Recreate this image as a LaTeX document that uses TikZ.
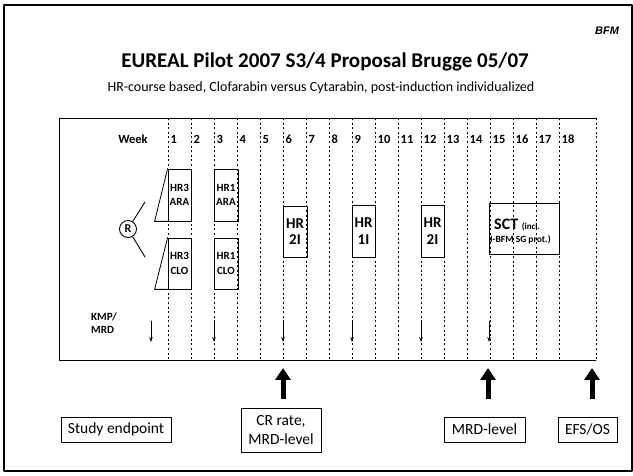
\documentclass[tikz,border=0pt]{standalone}
\usepackage{fontspec}
\setmainfont{Carlito}
\newfontfamily\arialfont{Liberation Sans}
\usetikzlibrary{arrows.meta}

\tikzset{
  hrbox/.style={draw,line width=0.8pt,inner sep=0pt,align=center,font=\bfseries\fontsize{11}{14.5}\selectfont},
  hrbig/.style={draw,line width=0.8pt,inner sep=0pt,align=center,font=\bfseries\fontsize{15}{16.5}\selectfont},
  goalbox/.style={draw,line width=0.7pt,inner sep=0pt,align=center,font=\fontsize{15.5}{19.5}\selectfont},
  weekline/.style={line width=1pt,dash pattern=on 2pt off 2.6pt,line cap=butt},
  kmparrow/.style={line width=0.9pt,-{Stealth[length=5pt,width=3.5pt]}},
  bigarrow/.style={line width=5pt,line cap=butt,-{Triangle[length=12pt,width=15pt]}}
}

\begin{document}
\begin{tikzpicture}[x=1pt,y=-1pt,line cap=round,line join=round,every node/.style={inner sep=0pt}]
  \useasboundingbox (0,0) rectangle (633,476);
  \def\wk{23}
  % frame and headings
  \draw[line width=1.5pt] (4,5) rectangle (632,471);
  \node[font=\arialfont\bfseries\itshape\fontsize{11}{11}\selectfont] (bfm) at (607,31) {BFM};
  \node[font=\bfseries\fontsize{21}{21}\selectfont] (title) at (325,62) {EUREAL Pilot 2007 S3/4 Proposal Brugge 05/07};
  \node[font=\fontsize{14}{14}\selectfont] (subtitle) at (321,88) {HR-course based, Clofarabin versus Cytarabin, post-induction individualized};

  % time line
  \draw[line width=0.7pt] (596,118) -- (59,118) -- (59,360) -- (596,360);
  \foreach \k in {0,...,17} \draw[weekline] ({168+\wk*\k},118) -- ({168+\wk*\k},360);
  \draw[weekline] (596,118) -- (596,360);
  \node[font=\bfseries\fontsize{12.5}{12.5}\selectfont] (week) at (133,139) {Week};
  \foreach \n in {1,...,18}
    \node[anchor=west,font=\bfseries\fontsize{12.5}{12.5}\selectfont] (wn\n) at ({168+\wk*(\n-1)+2.5},139) {\n};

  % randomisation
  \node[draw,circle,line width=0.9pt,minimum size=17pt,font=\bfseries\fontsize{12}{12}\selectfont] (rand) at (128,229) {R};
  \coordinate (armA) at (145,202); \coordinate (armB) at (145,257);
  \draw[line width=0.9pt] (rand) -- (armA);
  \draw[line width=0.9pt] (rand) -- (armB);

  \node[hrbox,minimum width=23pt,minimum height=52pt] (ara3) at (179.5,195) {HR3\\ARA};
  \node[hrbox,minimum width=24pt,minimum height=52pt] (ara1) at (226,195) {HR1\\ARA};
  \node[hrbox,minimum width=23pt,minimum height=51pt] (clo3) at (179.5,263.5) {HR3\\CLO};
  \node[hrbox,minimum width=24pt,minimum height=51pt] (clo1) at (226,263.5) {HR1\\CLO};
  \draw[line width=0.8pt] (ara3.north west) -- ([xshift=-13pt]ara3.south west) -- (ara3.south west);
  \draw[line width=0.8pt] (clo3.north west) -- ([xshift=-13pt]clo3.south west) -- (clo3.south west);

  \node[hrbig,minimum width=24pt,minimum height=51pt] (hrA) at (295,231.5) {HR\\2I};
  \node[hrbig,minimum width=23pt,minimum height=52pt] (hrB) at (363.5,231) {HR\\1I};
  \node[hrbig,minimum width=23pt,minimum height=52pt] (hrC) at (432.5,231) {HR\\2I};
  \node[draw,line width=0.8pt,minimum width=70pt,minimum height=51pt] (sct) at (524,228.5) {};
  \node[anchor=west,font=\bfseries\fontsize{16}{16}\selectfont] (scttxt) at (494,225) {SCT {\fontsize{9}{9}\selectfont(incl.}};
  \node[anchor=west,font=\bfseries\fontsize{9.5}{9.5}\selectfont] (sctsub) at (490,240) {I-BFM SG prot.)};

  % KMP/MRD time points
  \node[anchor=west,align=left,font=\bfseries\fontsize{11}{12.5}\selectfont] (kmp) at (91,323) {KMP/\\MRD};
  \foreach \x in {151,214,283,352,421,489} \draw[kmparrow] (\x,321) -- (\x,342);

  % study endpoints
  \node[goalbox,minimum width=110pt,minimum height=25pt] (study) at (116,429.5) {Study endpoint};
  \node[goalbox,minimum width=80pt,minimum height=44pt] (crbox) at (281,430) {CR rate,\\MRD-level};
  \node[goalbox,minimum width=81pt,minimum height=25pt] (mrdbox) at (484.5,429.5) {MRD-level};
  \node[goalbox,minimum width=59pt,minimum height=25pt] (efsbox) at (587.5,429.5) {EFS/OS};
  \coordinate (endA) at (283,399); \coordinate (tipA) at (283,368);
  \coordinate (endB) at (488,399); \coordinate (tipB) at (488,368);
  \coordinate (endC) at (592,399); \coordinate (tipC) at (592,368);
  \draw[bigarrow] (endA) -- (tipA);
  \draw[bigarrow] (endB) -- (tipB);
  \draw[bigarrow] (endC) -- (tipC);
\end{tikzpicture}
\end{document}
